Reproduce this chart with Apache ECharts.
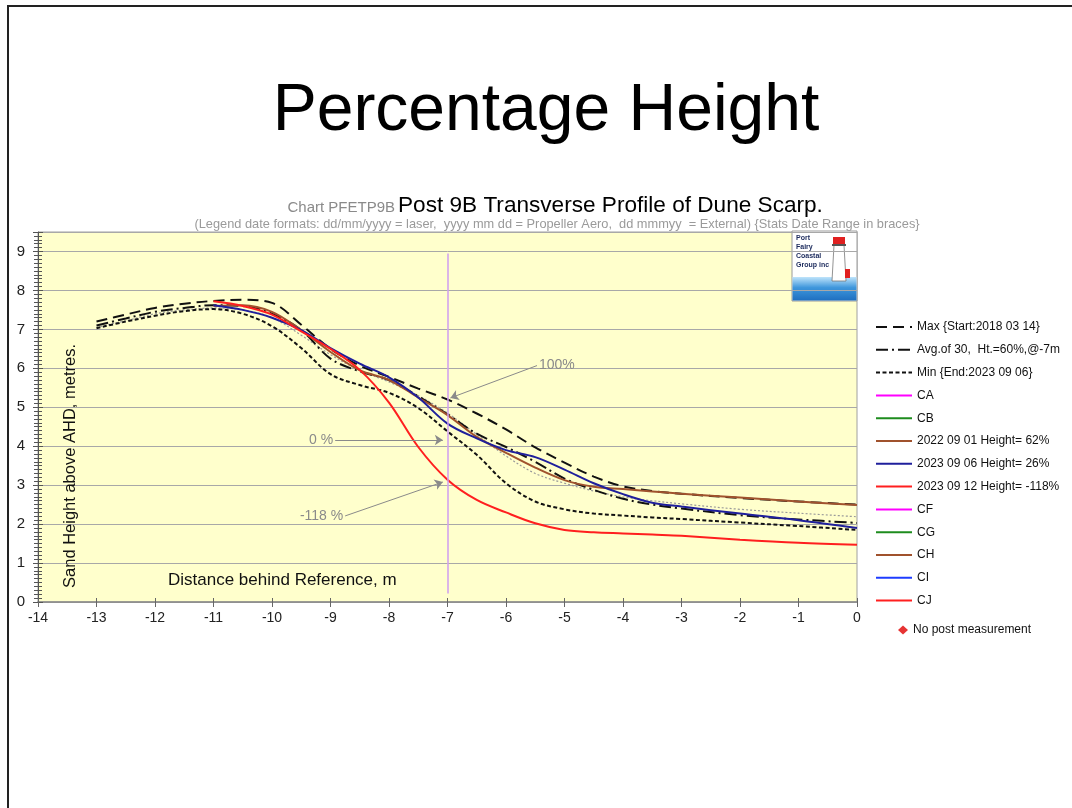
<!DOCTYPE html>
<html>
<head>
<meta charset="utf-8">
<title>Percentage Height</title>
<script src="https://cdn.jsdelivr.net/npm/echarts@6/dist/echarts.min.js"></script>
<style>
  html, body { margin: 0; padding: 0; background: #fff; }
  #main { width: 1072px; height: 808px; }
</style>
</head>
<body>
<div id="main"></div>
<script>
// distance behind reference, m
var xFull   = [-13, -12.5, -12, -11.5, -11, -10.5, -10, -9.5, -9, -8.5, -8, -7.5, -7, -6.5, -6, -5.5, -5, -4.5, -4, -3.5, -3, -2, -1, 0];
var xSurvey = [-11, -10.5, -10, -9.5, -9, -8.5, -8, -7.5, -7, -6.5, -6, -5.5, -5, -4.5, -4, -3.5, -3, -2, -1, 0];

// stats profiles (on xFull)
var maxHt   = [7.20, 7.38, 7.55, 7.66, 7.73, 7.76, 7.68, 7.12, 6.50, 6.07, 5.78, 5.48, 5.20, 4.84, 4.43, 3.97, 3.58, 3.22, 2.97, 2.85, 2.78, 2.67, 2.58, 2.50];
var avgHt   = [7.10, 7.28, 7.45, 7.55, 7.62, 7.60, 7.40, 6.98, 6.25, 5.92, 5.70, 5.28, 4.82, 4.32, 3.98, 3.60, 3.17, 2.88, 2.65, 2.50, 2.40, 2.23, 2.12, 2.03];
var minHt   = [7.03, 7.20, 7.35, 7.47, 7.52, 7.40, 7.08, 6.52, 5.85, 5.57, 5.37, 4.98, 4.38, 3.78, 3.05, 2.58, 2.38, 2.27, 2.22, 2.17, 2.13, 2.04, 1.95, 1.85];
var pct60Ht = [7.05, 7.22, 7.40, 7.50, 7.55, 7.50, 7.30, 6.85, 6.35, 5.95, 5.65, 5.30, 4.85, 4.30, 3.75, 3.30, 3.05, 2.85, 2.70, 2.60, 2.52, 2.38, 2.28, 2.19];

// surveys (on xSurvey)
var ht20220901 = [7.60, 7.62, 7.45, 6.98, 6.42, 5.95, 5.70, 5.25, 4.80, 4.24, 3.83, 3.45, 3.13, 2.96, 2.90, 2.84, 2.78, 2.68, 2.58, 2.49];
var ht20230906 = [7.62, 7.50, 7.30, 6.98, 6.52, 6.12, 5.77, 5.25, 4.58, 4.20, 3.90, 3.72, 3.40, 3.05, 2.77, 2.55, 2.45, 2.27, 2.10, 1.90];
var ht20230912 = [7.72, 7.60, 7.38, 6.95, 6.50, 5.96, 5.12, 3.98, 3.14, 2.62, 2.30, 2.02, 1.85, 1.79, 1.76, 1.73, 1.70, 1.60, 1.52, 1.47];

var refX = -7;
var noteLabels = ['100%', '0 %', '-118 %'];

var FONT = "'Liberation Sans', Arial, sans-serif";
var GRID_W = 1072 - 38 - 215;
var GRID_H = 808 - 232 - 206;

function pairs(xs, ys) {
    return xs.map(function (x, i) { return [x, ys[i]]; });
}

function profile(name, xs, ys, color, width, dash) {
    return {
        name: name,
        type: 'line',
        data: xs ? pairs(xs, ys) : [],
        smooth: 0.35,
        symbol: 'none',
        color: color,
        lineStyle: { color: color, width: width, type: dash || 'solid' },
        emphasis: { disabled: true }
    };
}

var chart = echarts.init(document.getElementById('main'));

var pctSeries = profile('Ht 60%', xFull, pct60Ht, '#9a9a9a', 1.2, [2, 2]);
// reference line at -7 m and the percentage call-outs
pctSeries.markLine = {
    silent: true,
    symbol: ['none', 'arrow'],
    symbolSize: 8,
    animation: false,
    lineStyle: { color: '#8a8a8a', width: 1, type: 'solid' },
    label: { show: true, position: 'start', color: '#8a8a8a', fontSize: 14, fontFamily: FONT, distance: 2 },
    data: [
        [{ coord: [refX, 0.22], symbol: 'none', lineStyle: { color: '#cf9cf0', width: 1.5 }, label: { show: false } },
         { coord: [refX, 8.95], symbol: 'none' }],
        [{ coord: [-5.47, 6.07], label: { formatter: noteLabels[0] } }, { coord: [-6.95, 5.24] }],
        [{ coord: [-8.92, 4.16], label: { formatter: noteLabels[1] } }, { coord: [-7.08, 4.16] }],
        [{ coord: [-8.75, 2.21], label: { formatter: noteLabels[2] } }, { coord: [-7.08, 3.08] }]
    ]
};

var series = [
    pctSeries,
    profile('Max {Start:2018 03 14}', xFull, maxHt, '#111', 2, [11, 6]),
    profile('Avg.of 30,  Ht.=60%,@-7m', xFull, avgHt, '#111', 2, [12, 4, 2, 4]),
    profile('Min {End:2023 09 06}', xFull, minHt, '#111', 2, [4, 2.5]),
    profile('CA', null, null, '#ff00ff', 2),
    profile('CB', null, null, '#1e8c1e', 2),
    profile('2022 09 01 Height= 62%', xSurvey, ht20220901, '#a0522d', 2),
    profile('2023 09 06 Height= 26%', xSurvey, ht20230906, '#1f1f9c', 2),
    profile('2023 09 12 Height= -118%', xSurvey, ht20230912, '#ff1f1f', 2),
    profile('CF', null, null, '#ff00ff', 2),
    profile('CG', null, null, '#1e8c1e', 2),
    profile('CH', null, null, '#a0522d', 2),
    profile('CI', null, null, '#1e3cff', 2),
    profile('CJ', null, null, '#ff1f1f', 2),
    {
        name: 'No post measurement',
        type: 'scatter',
        data: [],
        symbol: 'diamond',
        symbolSize: 8,
        itemStyle: { color: '#e00000' }
    }
];

var legendNames = series.slice(1, 14).map(function (s) { return s.name; });

var option = {
    animation: false,
    backgroundColor: '#fff',
    textStyle: { fontFamily: FONT },
    grid: {
        left: 38, right: 215, top: 232, bottom: 206,
        show: true, backgroundColor: '#ffffcc', borderColor: '#a0a0a0', borderWidth: 1
    },
    legend: [{
        data: legendNames,
        orient: 'vertical',
        left: 870, top: 316,
        itemWidth: 36, itemHeight: 14, itemGap: 10.8,
        selectedMode: false,
        itemStyle: { opacity: 0 },
        textStyle: { fontSize: 12, color: '#111', fontFamily: FONT }
    }, {
        data: ['No post measurement'],
        orient: 'vertical',
        left: 893, top: 619,
        itemWidth: 10, itemHeight: 9,
        selectedMode: false,
        textStyle: { fontSize: 12, color: '#111', fontFamily: FONT }
    }],
    xAxis: [{
        type: 'value', min: -14, max: 0, interval: 1,
        axisLine: { onZero: false, lineStyle: { color: '#888', width: 1.5 } },
        axisTick: { length: 5, lineStyle: { color: '#666' } },
        axisLabel: { color: '#222', fontSize: 14, margin: 9, fontFamily: FONT },
        splitLine: { show: false }
    }, {
        // upper half of the crossing ticks, on the bottom edge
        type: 'value', min: -14, max: 0, interval: 1, position: 'top', offset: -GRID_H,
        axisLine: { show: false, onZero: false },
        axisTick: { inside: false, length: 4, lineStyle: { color: '#666' } },
        axisLabel: { show: false },
        splitLine: { show: false }
    }],
    yAxis: [{
        type: 'value', min: 0, max: 9.5, interval: 1, position: 'left',
        axisLine: { show: true, onZero: false, lineStyle: { color: '#555' } },
        axisTick: { show: true, inside: false, length: 5, lineStyle: { color: '#555' } },
        minorTick: { show: true, splitNumber: 10, length: 4, lineStyle: { color: '#555' } },
        axisLabel: { color: '#222', fontSize: 15, margin: 13, showMaxLabel: false, fontFamily: FONT },
        splitLine: { show: true, lineStyle: { color: '#a8a8a8', width: 1 } }
    }, {
        // right-hand half of the crossing ticks, on the left edge
        type: 'value', min: 0, max: 9.5, interval: 1, position: 'right', offset: -GRID_W,
        axisLine: { show: false, onZero: false },
        axisTick: { show: true, inside: false, length: 5, lineStyle: { color: '#555' } },
        minorTick: { show: true, splitNumber: 10, length: 4, lineStyle: { color: '#555' } },
        axisLabel: { show: false },
        splitLine: { show: false }
    }],
    series: series,
    graphic: [
        // slide frame
        { type: 'rect', shape: { x: 8, y: 6, width: 1100, height: 900 }, style: { fill: 'none', stroke: '#222', lineWidth: 2 }, silent: true },
        { type: 'text', x: 546, y: 112, style: { text: 'Percentage Height', font: "66px " + FONT, fill: '#000', textAlign: 'center', textVerticalAlign: 'middle' } },
        { type: 'text', x: 395, y: 208, style: { text: 'Chart PFETP9B', font: "15px " + FONT, fill: '#8a8a8a', textAlign: 'right', textVerticalAlign: 'middle' } },
        { type: 'text', x: 398, y: 206, style: { text: 'Post 9B Transverse Profile of Dune Scarp.', font: "22.6px " + FONT, fill: '#000', textAlign: 'left', textVerticalAlign: 'middle' } },
        { type: 'text', x: 557, y: 224, style: { text: '(Legend date formats: dd/mm/yyyy = laser,  yyyy mm dd = Propeller Aero,  dd mmmyy  = External) {Stats Date Range in braces}', font: "12.8px " + FONT, fill: '#9a9a9a', textAlign: 'center', textVerticalAlign: 'middle' } },
        { type: 'text', x: 70, y: 466, rotation: Math.PI / 2, z: 10, style: { text: 'Sand Height above AHD, metres.', font: "16.5px " + FONT, fill: '#111', textAlign: 'center', textVerticalAlign: 'middle' } },
        { type: 'text', x: 168, y: 580, z: 10, style: { text: 'Distance behind Reference, m', font: "17px " + FONT, fill: '#111', textAlign: 'left', textVerticalAlign: 'middle' } },
        // club logo
        {
            type: 'group', x: 792, y: 231, z: 10,
            children: [
                { type: 'rect', shape: { x: 0, y: 0, width: 65, height: 70 }, style: { fill: '#fff', stroke: '#9a9a9a', lineWidth: 1 } },
                { type: 'rect', shape: { x: 0.5, y: 46, width: 64, height: 23.5 },
                  style: { fill: new echarts.graphic.LinearGradient(0, 0, 0, 1, [{ offset: 0, color: '#bfe4fb' }, { offset: 0.45, color: '#3f97dc' }, { offset: 1, color: '#1f6fc0' }]) } },
                { type: 'polygon', shape: { points: [[42, 14], [52, 14], [54, 50], [40, 50]] }, style: { fill: '#fff', stroke: '#777', lineWidth: 0.8 } },
                { type: 'rect', shape: { x: 41, y: 6, width: 12, height: 8 }, style: { fill: '#e02020' } },
                { type: 'rect', shape: { x: 40, y: 13, width: 14, height: 2 }, style: { fill: '#555' } },
                { type: 'rect', shape: { x: 53, y: 38, width: 5, height: 9 }, style: { fill: '#e02020' } },
                { type: 'text', x: 4, y: 4, style: { text: 'Port', font: 'bold 7px ' + FONT, fill: '#1b2a5c' } },
                { type: 'text', x: 4, y: 13, style: { text: 'Fairy', font: 'bold 7px ' + FONT, fill: '#1b2a5c' } },
                { type: 'text', x: 4, y: 22, style: { text: 'Coastal', font: 'bold 7px ' + FONT, fill: '#1b2a5c' } },
                { type: 'text', x: 4, y: 31, style: { text: 'Group inc', font: 'bold 7px ' + FONT, fill: '#1b2a5c' } }
            ]
        }
    ]
};

chart.setOption(option);
</script>
</body>
</html>
